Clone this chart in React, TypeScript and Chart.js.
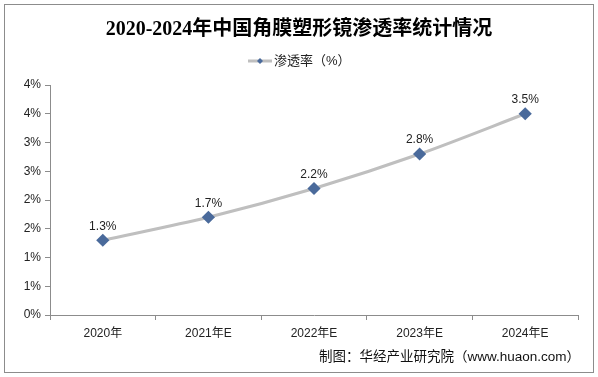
import React, { useEffect, useRef } from "react";
import { Chart, registerables } from "chart.js";

Chart.register(...registerables);

const categories = ["2020年", "2021年E", "2022年E", "2023年E", "2024年E"];
const penetration = [1.3, 1.7, 2.2, 2.8, 3.5];
const titleText = "2020-2024年中国角膜塑形镜渗透率统计情况";
const legendText = "渗透率（%）";
const sourceText = "制图：华经产业研究院（www.huaon.com）";

const LINE_COLOR = "#BFBFBF";
const POINT_COLOR = "#4A6A9B";
const SANS = "'Liberation Sans', Arial, 'Noto Sans CJK SC', sans-serif";

const decorPlugin = {
  id: "decor",
  afterDraw(chart: any) {
    const ctx = chart.ctx;
    const W = chart.width;
    const H = chart.height;
    ctx.save();
    // outer border
    ctx.strokeStyle = "#8C8C8C";
    ctx.lineWidth = 1;
    ctx.strokeRect(4.5, 4.5, W - 9, H - 9);
    // title
    ctx.fillStyle = "#000";
    ctx.font = "bold 20px 'Liberation Serif', 'Noto Sans CJK SC', serif";
    ctx.textAlign = "center";
    ctx.textBaseline = "middle";
    ctx.fillText(titleText, W / 2, 30);
    // legend
    ctx.font = "13px " + SANS;
    ctx.textAlign = "left";
    const lx = 248;
    const ly = 61;
    ctx.strokeStyle = LINE_COLOR;
    ctx.lineWidth = 3;
    ctx.beginPath();
    ctx.moveTo(lx, ly);
    ctx.lineTo(lx + 24, ly);
    ctx.stroke();
    ctx.fillStyle = POINT_COLOR;
    ctx.beginPath();
    ctx.moveTo(lx + 12, ly - 3);
    ctx.lineTo(lx + 15, ly);
    ctx.lineTo(lx + 12, ly + 3);
    ctx.lineTo(lx + 9, ly);
    ctx.closePath();
    ctx.fill();
    ctx.fillStyle = "#222";
    ctx.fillText(legendText, lx + 26, ly);
    // data labels
    const meta = chart.getDatasetMeta(0);
    ctx.font = "12px " + SANS;
    ctx.textAlign = "center";
    ctx.fillStyle = "#222";
    meta.data.forEach((pt: any, i: number) => {
      ctx.fillText(penetration[i].toFixed(1) + "%", pt.x, pt.y - 14);
    });
    // source
    ctx.font = "13.5px " + SANS;
    ctx.textAlign = "right";
    ctx.fillStyle = "#111";
    ctx.fillText(sourceText, 580, 357);
    ctx.restore();
  },
};

export default function App() {
  const ref = useRef<HTMLCanvasElement>(null);
  useEffect(() => {
    if (!ref.current) return;
    const chart = new Chart(ref.current, {
      type: "line",
      data: {
        labels: categories,
        datasets: [
          {
            label: legendText,
            data: penetration,
            borderColor: LINE_COLOR,
            borderWidth: 3,
            pointStyle: "rectRot",
            pointRadius: 4.5,
            pointBackgroundColor: POINT_COLOR,
            pointBorderColor: POINT_COLOR,
            tension: 0.3,
          },
        ],
      },
      options: {
        responsive: false,
        animation: false,
        devicePixelRatio: 1,
        layout: { padding: { left: 0, right: 20, top: 85, bottom: 0 } },
        plugins: {
          legend: { display: false },
          title: { display: false },
          tooltip: { enabled: false },
        },
        scales: {
          x: {
            offset: true,
            grid: {
              display: true,
              offset: true,
              drawOnChartArea: false,
              drawTicks: true,
              tickLength: 5,
              color: "#8C8C8C",
            },
            border: { display: true, color: "#8C8C8C" },
            ticks: {
              color: "#222",
              font: { size: 12, family: SANS },
              padding: 6,
              maxRotation: 0,
            },
            afterFit(scale: any) {
              scale.height = 62;
            },
          },
          y: {
            min: 0,
            max: 4,
            grid: {
              display: true,
              drawOnChartArea: false,
              drawTicks: true,
              tickLength: 5,
              color: "#8C8C8C",
            },
            border: { display: true, color: "#8C8C8C" },
            ticks: {
              stepSize: 0.5,
              color: "#222",
              font: { size: 12, family: SANS },
              padding: 4,
              callback: (v: any) => Math.round(Number(v)) + "%",
            },
            afterFit(scale: any) {
              scale.width = 50;
            },
          },
        },
      },
      plugins: [decorPlugin],
    });
    return () => chart.destroy();
  }, []);
  return (
    <div style={{ position: "absolute", left: 0, top: 0, width: 598, height: 377, background: "#fff" }}>
      <canvas ref={ref} width={598} height={377} style={{ width: 598, height: 377, display: "block" }} />
    </div>
  );
}
